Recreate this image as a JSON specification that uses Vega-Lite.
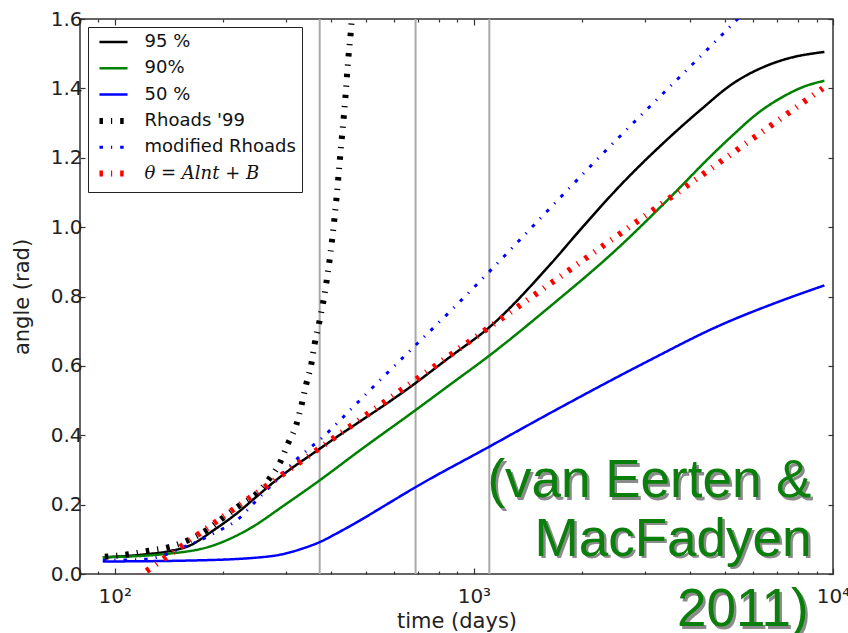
{
  "$schema": "https://vega.github.io/schema/vega-lite/v6.json",
  "width": 753,
  "height": 555,
  "autosize": {"type": "none"},
  "padding": {"left": 80, "top": 19, "right": 15, "bottom": 59},
  "background": "white",
  "config": {
    "view": {"stroke": "#333333", "strokeWidth": 1.5},
    "font": "DejaVu Sans",
    "axis": {
      "grid": false,
      "domain": false,
      "labelFont": "DejaVu Sans",
      "labelFontSize": 20,
      "labelColor": "#222222",
      "titleFont": "DejaVu Sans",
      "titleFontSize": 21,
      "titleFontWeight": "normal",
      "titleColor": "#222222",
      "tickColor": "#333333",
      "tickWidth": 1.2,
      "labelOverlap": false,
      "labelFlush": false
    },
    "legend": {
      "orient": "top-left",
      "offset": 8,
      "symbolType": "M-1.5,0H1.5",
      "symbolSize": 350,
      "labelFont": "DejaVu Sans",
      "labelFontSize": 18,
      "labelColor": "#111111",
      "labelLimit": 300,
      "strokeColor": "#222222",
      "fillColor": "white",
      "cornerRadius": 0,
      "padding": 6,
      "gridAlign": "all",
      "rowPadding": 2.3,
      "symbolOffset": 10.5,
      "labelOffset": 22
    }
  },
  "datasets": {
    "curves": [
      {"series": "95 %", "t": 92.6, "angle": 0.048},
      {"series": "95 %", "t": 120, "angle": 0.056},
      {"series": "95 %", "t": 142.2, "angle": 0.066},
      {"series": "95 %", "t": 161.7, "angle": 0.082},
      {"series": "95 %", "t": 187.7, "angle": 0.125},
      {"series": "95 %", "t": 218.2, "angle": 0.174},
      {"series": "95 %", "t": 253.3, "angle": 0.231},
      {"series": "95 %", "t": 288, "angle": 0.279},
      {"series": "95 %", "t": 372, "angle": 0.361},
      {"series": "95 %", "t": 687, "angle": 0.55},
      {"series": "95 %", "t": 855.8, "angle": 0.625},
      {"series": "95 %", "t": 1106, "angle": 0.712},
      {"series": "95 %", "t": 1624, "angle": 0.89},
      {"series": "95 %", "t": 2007, "angle": 1.0},
      {"series": "95 %", "t": 2594, "angle": 1.127},
      {"series": "95 %", "t": 3432, "angle": 1.25},
      {"series": "95 %", "t": 4300, "angle": 1.34},
      {"series": "95 %", "t": 5248, "angle": 1.413},
      {"series": "95 %", "t": 6525, "angle": 1.465},
      {"series": "95 %", "t": 7419, "angle": 1.485},
      {"series": "95 %", "t": 9463, "angle": 1.505},

      {"series": "90%", "t": 92.6, "angle": 0.048},
      {"series": "90%", "t": 142.2, "angle": 0.059},
      {"series": "90%", "t": 183.8, "angle": 0.079},
      {"series": "90%", "t": 233, "angle": 0.126},
      {"series": "90%", "t": 301, "angle": 0.203},
      {"series": "90%", "t": 372, "angle": 0.27},
      {"series": "90%", "t": 480.8, "angle": 0.356},
      {"series": "90%", "t": 687, "angle": 0.472},
      {"series": "90%", "t": 855.8, "angle": 0.545},
      {"series": "90%", "t": 1099, "angle": 0.628},
      {"series": "90%", "t": 1624, "angle": 0.77},
      {"series": "90%", "t": 2491, "angle": 0.935},
      {"series": "90%", "t": 3460, "angle": 1.078},
      {"series": "90%", "t": 4729, "angle": 1.22},
      {"series": "90%", "t": 5258, "angle": 1.265},
      {"series": "90%", "t": 6200, "angle": 1.33},
      {"series": "90%", "t": 7231, "angle": 1.375},
      {"series": "90%", "t": 8300, "angle": 1.405},
      {"series": "90%", "t": 9463, "angle": 1.422},

      {"series": "50 %", "t": 92.6, "angle": 0.036},
      {"series": "50 %", "t": 164.9, "angle": 0.039},
      {"series": "50 %", "t": 253.3, "angle": 0.048},
      {"series": "50 %", "t": 290, "angle": 0.056},
      {"series": "50 %", "t": 330, "angle": 0.072},
      {"series": "50 %", "t": 372, "angle": 0.092},
      {"series": "50 %", "t": 420, "angle": 0.12},
      {"series": "50 %", "t": 480.8, "angle": 0.154},
      {"series": "50 %", "t": 560, "angle": 0.195},
      {"series": "50 %", "t": 687, "angle": 0.25},
      {"series": "50 %", "t": 1099, "angle": 0.366},
      {"series": "50 %", "t": 1624, "angle": 0.463},
      {"series": "50 %", "t": 3083, "angle": 0.616},
      {"series": "50 %", "t": 4729, "angle": 0.712},
      {"series": "50 %", "t": 7231, "angle": 0.789},
      {"series": "50 %", "t": 9463, "angle": 0.832},

      {"series": "Rhoads '99", "t": 93.8, "angle": 0.05},
      {"series": "Rhoads '99", "t": 107.8, "angle": 0.056},
      {"series": "Rhoads '99", "t": 122.5, "angle": 0.066},
      {"series": "Rhoads '99", "t": 140.7, "angle": 0.077},
      {"series": "Rhoads '99", "t": 158.3, "angle": 0.095},
      {"series": "Rhoads '99", "t": 179.9, "angle": 0.126},
      {"series": "Rhoads '99", "t": 200.2, "angle": 0.162},
      {"series": "Rhoads '99", "t": 222.8, "angle": 0.198},
      {"series": "Rhoads '99", "t": 248, "angle": 0.231},
      {"series": "Rhoads '99", "t": 267.2, "angle": 0.27},
      {"series": "Rhoads '99", "t": 288, "angle": 0.32},
      {"series": "Rhoads '99", "t": 303.5, "angle": 0.376},
      {"series": "Rhoads '99", "t": 320.4, "angle": 0.431},
      {"series": "Rhoads '99", "t": 330.9, "angle": 0.486},
      {"series": "Rhoads '99", "t": 341.6, "angle": 0.549},
      {"series": "Rhoads '99", "t": 352.7, "angle": 0.606},
      {"series": "Rhoads '99", "t": 360.3, "angle": 0.664},
      {"series": "Rhoads '99", "t": 370.4, "angle": 0.722},
      {"series": "Rhoads '99", "t": 379.9, "angle": 0.78},
      {"series": "Rhoads '99", "t": 414, "angle": 1.08},
      {"series": "Rhoads '99", "t": 425.6, "angle": 1.221},
      {"series": "Rhoads '99", "t": 438.1, "angle": 1.366},
      {"series": "Rhoads '99", "t": 446.6, "angle": 1.482},
      {"series": "Rhoads '99", "t": 455.9, "angle": 1.586},
      {"series": "Rhoads '99", "t": 460, "angle": 1.65},

      {"series": "modified Rhoads", "t": 92.6, "angle": 0.04},
      {"series": "modified Rhoads", "t": 114.9, "angle": 0.041},
      {"series": "modified Rhoads", "t": 133.4, "angle": 0.05},
      {"series": "modified Rhoads", "t": 151.7, "angle": 0.073},
      {"series": "modified Rhoads", "t": 172.4, "angle": 0.097},
      {"series": "modified Rhoads", "t": 196, "angle": 0.126},
      {"series": "modified Rhoads", "t": 218.2, "angle": 0.154},
      {"series": "modified Rhoads", "t": 248, "angle": 0.212},
      {"series": "modified Rhoads", "t": 281.8, "angle": 0.27},
      {"series": "modified Rhoads", "t": 320.4, "angle": 0.33},
      {"series": "modified Rhoads", "t": 379.9, "angle": 0.395},
      {"series": "modified Rhoads", "t": 460.5, "angle": 0.481},
      {"series": "modified Rhoads", "t": 546.6, "angle": 0.558},
      {"series": "modified Rhoads", "t": 893.3, "angle": 0.775},
      {"series": "modified Rhoads", "t": 2336, "angle": 1.222},
      {"series": "modified Rhoads", "t": 5258, "angle": 1.586},
      {"series": "modified Rhoads", "t": 5600, "angle": 1.615},

      {"series": "θ = Alnt + B", "t": 110, "angle": -0.026},
      {"series": "θ = Alnt + B", "t": 1099, "angle": 0.71},
      {"series": "θ = Alnt + B", "t": 9361, "angle": 1.4}
    ],
    "epochs": [{"t": 372}, {"t": 688}, {"t": 1104}],
    "credit": [
      {"t": 8709, "angle": 0.221, "label": "(van Eerten &"},
      {"t": 8709, "angle": 0.053, "label": "MacFadyen"},
      {"t": 8550, "angle": -0.151, "label": "2011)"}
    ]
  },
  "layer": [
    {
      "data": {"name": "epochs"},
      "mark": {"type": "rule", "color": "#a9a9a9", "strokeWidth": 2},
      "encoding": {
        "x": {"field": "t", "type": "quantitative", "scale": {"type": "log", "domain": [80, 10000], "nice": false}, "axis": null}
      }
    },
    {
      "data": {"name": "curves"},
      "transform": [{"filter": "indexof(['95 %', '90%', '50 %'], datum.series) >= 0"}],
      "mark": {"type": "line", "clip": true, "interpolate": "monotone", "strokeWidth": 2.5},
      "encoding": {
        "x": {
          "field": "t", "type": "quantitative",
          "scale": {"type": "log", "domain": [80, 10000], "nice": false},
          "axis": {
            "title": "time (days)",
            "values": [80, 90, 100, 200, 300, 400, 500, 600, 700, 800, 900, 1000, 2000, 3000, 4000, 5000, 6000, 7000, 8000, 9000, 10000],
            "labelExpr": "datum.value == 100 ? '10²' : datum.value == 1000 ? '10³' : datum.value == 10000 ? '10⁴' : ''",
            "tickSize": {"condition": {"test": "datum.value == 100 || datum.value == 1000 || datum.value == 10000", "value": -6}, "value": -3},
            "labelPadding": 18,
            "titlePadding": 1
          }
        },
        "y": {
          "field": "angle", "type": "quantitative",
          "scale": {"domain": [0, 1.6], "nice": false},
          "axis": {
            "title": "angle (rad)",
            "values": [0, 0.2, 0.4, 0.6, 0.8, 1.0, 1.2, 1.4, 1.6],
            "format": ".1f",
            "tickSize": -5,
            "labelPadding": 3,
            "titlePadding": 18
          }
        },
        "color": {
          "field": "series", "type": "nominal",
          "scale": {
            "domain": ["95 %", "90%", "50 %", "Rhoads '99", "modified Rhoads", "θ = Alnt + B"],
            "range": ["#000000", "#008000", "#0000ff", "#000000", "#0000ff", "#ff0000"]
          },
          "legend": {
            "title": null,
            "encode": {
              "labels": {"update": {
                "fontStyle": {"signal": "datum.value == 'θ = Alnt + B' ? 'italic' : 'normal'"},
                "font": {"signal": "datum.value == 'θ = Alnt + B' ? 'DejaVu Serif' : 'DejaVu Sans'"}
              }},
              "symbols": {"update": {
                "strokeWidth": {"signal": "datum.value == \"Rhoads '99\" || datum.value == 'θ = Alnt + B' ? 6 : datum.value == 'modified Rhoads' ? 3 : 2.5"}
              }}
            }
          }
        },
        "strokeDash": {
          "field": "series", "type": "nominal",
          "scale": {
            "domain": ["95 %", "90%", "50 %", "Rhoads '99", "modified Rhoads", "θ = Alnt + B"],
            "range": [[1, 0], [1, 0], [1, 0], [3.5, 8, 1.2, 8], [3.5, 8, 1.2, 8], [3.5, 8, 1.2, 8]]
          },
          "legend": {"title": null}
        }
      }
    },
    {
      "data": {"name": "curves"},
      "transform": [{"filter": "datum.series == 'modified Rhoads'"}],
      "mark": {"type": "line", "clip": true, "interpolate": "monotone", "strokeWidth": 3},
      "encoding": {
        "x": {"field": "t", "type": "quantitative", "scale": {"type": "log", "domain": [80, 10000], "nice": false}, "axis": null},
        "y": {"field": "angle", "type": "quantitative", "scale": {"domain": [0, 1.6], "nice": false}, "axis": null},
        "color": {"field": "series", "type": "nominal", "legend": {"title": null}},
        "strokeDash": {"field": "series", "type": "nominal", "legend": {"title": null}}
      }
    },
    {
      "data": {"name": "curves"},
      "transform": [{"filter": "datum.series == \"Rhoads '99\" || datum.series == 'θ = Alnt + B'"}],
      "mark": {"type": "line", "clip": true, "interpolate": "monotone", "strokeWidth": 6},
      "encoding": {
        "x": {"field": "t", "type": "quantitative", "scale": {"type": "log", "domain": [80, 10000], "nice": false}, "axis": null},
        "y": {"field": "angle", "type": "quantitative", "scale": {"domain": [0, 1.6], "nice": false}, "axis": null},
        "color": {"field": "series", "type": "nominal", "legend": {"title": null}},
        "strokeDash": {"field": "series", "type": "nominal", "legend": {"title": null}}
      }
    },
    {
      "data": {"name": "credit"},
      "mark": {"type": "text", "clip": false, "align": "right", "baseline": "alphabetic", "font": "Liberation Sans", "fontSize": 53, "color": "#1a1a1a", "opacity": 0.5, "dx": 2.5, "dy": 2.5},
      "encoding": {
        "x": {"field": "t", "type": "quantitative", "scale": {"type": "log", "domain": [80, 10000], "nice": false}, "axis": null},
        "y": {"field": "angle", "type": "quantitative", "scale": {"domain": [0, 1.6], "nice": false}, "axis": null},
        "text": {"field": "label"}
      }
    },
    {
      "data": {"name": "credit"},
      "mark": {"type": "text", "clip": false, "align": "right", "baseline": "alphabetic", "font": "Liberation Sans", "fontSize": 53, "color": "#0b7f0b"},
      "encoding": {
        "x": {
          "field": "t", "type": "quantitative",
          "scale": {"type": "log", "domain": [80, 10000], "nice": false},
          "axis": {
            "orient": "top", "title": null, "labels": false,
            "values": [80, 90, 100, 200, 300, 400, 500, 600, 700, 800, 900, 1000, 2000, 3000, 4000, 5000, 6000, 7000, 8000, 9000, 10000],
            "tickSize": {"condition": {"test": "datum.value == 100 || datum.value == 1000 || datum.value == 10000", "value": -6}, "value": -3}
          }
        },
        "y": {
          "field": "angle", "type": "quantitative",
          "scale": {"domain": [0, 1.6], "nice": false},
          "axis": {"orient": "right", "title": null, "labels": false, "values": [0, 0.2, 0.4, 0.6, 0.8, 1.0, 1.2, 1.4, 1.6], "tickSize": -5}
        },
        "text": {"field": "label"}
      }
    }
  ],
  "resolve": {"axis": {"x": "independent", "y": "independent"}}
}
